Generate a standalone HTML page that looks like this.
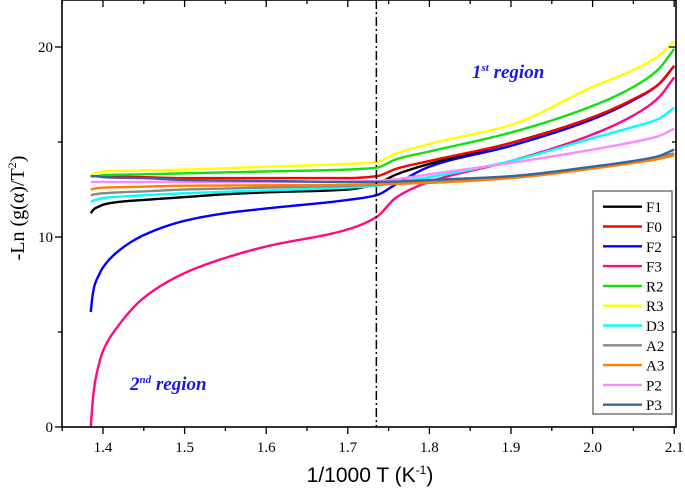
<!DOCTYPE html>
<html><head><meta charset="utf-8"><style>
html,body{margin:0;padding:0;background:#fff;}
svg{display:block;}
</style></head><body>
<svg id="chart" width="685" height="497" viewBox="0 0 685 497" xmlns="http://www.w3.org/2000/svg">
<g id="series"></g>
<g id="axes"></g>
<g id="legend"></g>
<text x="472" y="78" font-family="Liberation Serif, serif" font-size="19" font-weight="bold" font-style="italic" fill="#1a1ae0">1<tspan font-size="11" dy="-7">st</tspan><tspan dy="7"> region</tspan></text>
<text x="130" y="390" font-family="Liberation Serif, serif" font-size="19" font-weight="bold" font-style="italic" fill="#1a1ae0">2<tspan font-size="11" dy="-7">nd</tspan><tspan dy="7"> region</tspan></text>
<text transform="translate(24,208) rotate(-90)" text-anchor="middle" font-family="Liberation Serif, serif" font-size="20">-Ln (g(α)/T<tspan font-size="12" dy="-8">2</tspan><tspan dy="8">)</tspan></text>
<text x="370" y="482" text-anchor="middle" font-family="Liberation Sans, sans-serif" font-size="21">1/1000 T (K<tspan font-size="12" dy="-8">-1</tspan><tspan dy="8">)</tspan></text>
</svg>
<script>
const xGrid = [1.385,1.3875,1.39,1.395,1.40,1.42,1.45,1.5,1.55,1.6,1.7,1.735,1.76,1.8,1.9,2.0,2.05,2.08,2.1];
const seriesNames = ["F2","F1","F0","F3","R2","R3","D3","A2","A3","P2","P3"];
const seriesColors = ["#0000ff","#000000","#ff0000","#ff0a80","#10e010","#ffff00","#00ffff","#888888","#ff8000","#ff88ff","#3a64a0"];
const F2 = [6.05,7.0,7.5,8.0,8.4,9.3,10.1,10.85,11.25,11.5,11.95,12.2,12.8,13.7,14.8,16.2,17.2,18.0,19.0];
const F1 = [11.25,11.4,11.5,11.6,11.7,11.85,11.95,12.1,12.25,12.35,12.5,12.8,13.3,13.85,14.95,16.3,17.25,18.0,19.0];
const F0 = [13.2,13.2,13.2,13.2,13.2,13.18,13.15,13.1,13.1,13.1,13.1,13.2,13.6,14.0,14.95,16.3,17.25,18.0,19.0];
const F3 = [0,1.4,2.3,3.3,4.0,5.4,6.8,8.1,8.9,9.5,10.4,11.05,12.1,12.9,14.0,15.4,16.4,17.3,18.4];
const R2 = [13.2,13.2,13.2,13.22,13.25,13.28,13.3,13.35,13.4,13.45,13.55,13.65,14.1,14.5,15.5,16.9,17.9,18.8,19.9];
const R3 = [13.3,13.32,13.35,13.4,13.45,13.48,13.5,13.55,13.62,13.7,13.85,13.95,14.4,14.9,15.9,17.9,18.8,19.5,20.3];
const D3 = [11.85,11.9,11.95,12.0,12.05,12.12,12.2,12.3,12.38,12.45,12.6,12.7,12.9,13.15,14.0,15.2,15.8,16.2,16.8];
const A2 = [12.2,12.22,12.25,12.28,12.3,12.35,12.4,12.5,12.55,12.6,12.7,12.75,12.8,12.9,13.2,13.7,14.0,14.2,14.4];
const A3 = [12.5,12.52,12.55,12.58,12.6,12.62,12.65,12.7,12.71,12.72,12.75,12.78,12.8,12.85,13.1,13.6,13.9,14.1,14.3];
const P2 = [12.9,12.9,12.9,12.9,12.9,12.9,12.9,12.9,12.9,12.9,12.92,12.95,13.05,13.3,13.9,14.6,15.0,15.3,15.7];
const P3 = [13.2,13.2,13.2,13.18,13.15,13.12,13.1,13.0,12.97,12.95,12.9,12.9,12.92,13.0,13.2,13.7,14.0,14.25,14.6];
const seriesData = [F2,F1,F0,F3,R2,R3,D3,A2,A3,P2,P3];
const legendOrder = ["F1","F0","F2","F3","R2","R3","D3","A2","A3","P2","P3"];
const xTicks = [1.4,1.5,1.6,1.7,1.8,1.9,2.0,2.1];
const xTickLabels = ["1.4","1.5","1.6","1.7","1.8","1.9","2.0","2.1"];
const yTicks = [0,10,20];
const yTickLabels = ["0","10","20"];
const boundaryX = [1.735];

const NS="http://www.w3.org/2000/svg";
const X0=62,X1=676,Y0=0,Y1=427;
function xs(v){return 103+(v-1.4)*816;}
function ys(v){return 427-v*19;}
function mk(tag,attrs,parent){const e=document.createElementNS(NS,tag);for(const k in attrs)e.setAttribute(k,attrs[k]);parent.appendChild(e);return e;}
const gS=document.getElementById('series'),gA=document.getElementById('axes'),gL=document.getElementById('legend');

function pathFor(arr){
  const x=xGrid,y=arr,n=x.length,h=[],d=[],m=[];
  for(let i=0;i<n-1;i++){h[i]=x[i+1]-x[i];d[i]=(y[i+1]-y[i])/h[i];}
  m[0]=d[0];m[n-1]=d[n-2];
  for(let i=1;i<n-1;i++){
    if(d[i-1]*d[i]<=0)m[i]=0;
    else{const w1=2*h[i]+h[i-1],w2=h[i]+2*h[i-1];m[i]=(w1+w2)/(w1/d[i-1]+w2/d[i]);}
  }
  let pts=[];
  for(let i=0;i<n-1;i++){
    const steps=Math.max(4,Math.ceil((xs(x[i+1])-xs(x[i]))/2));
    for(let s=0;s<(i===n-2?steps+1:steps);s++){
      const t=s/steps,t2=t*t,t3=t2*t;
      const v=(2*t3-3*t2+1)*y[i]+(t3-2*t2+t)*h[i]*m[i]+(-2*t3+3*t2)*y[i+1]+(t3-t2)*h[i]*m[i+1];
      pts.push(xs(x[i]+t*h[i]).toFixed(2)+","+ys(v).toFixed(2));
    }
  }
  return "M"+pts.join(" L");
}
seriesNames.forEach((n,i)=>{
  const e=mk('path',{d:pathFor(seriesData[i]),fill:'none',stroke:seriesColors[i],'stroke-width':2.4,'stroke-linejoin':'round'},gS);
  
  
});
boundaryX.forEach(b=>{
  const e=mk('line',{x1:xs(b),x2:xs(b),y1:Y0,y2:Y1,stroke:'#000','stroke-width':1.5,'stroke-dasharray':'9,3,2,3'},gA);
  
  
});
const fr=mk('rect',{x:X0,y:Y0,width:X1-X0,height:Y1-Y0,fill:'none',stroke:'#000','stroke-width':1.6},gA);


for(let v=1.35;v<=2.1001;v+=0.05){
  const x=xs(v),major=Math.abs(Math.round(v*10)-v*10)<0.01;
  mk('line',{x1:x,x2:x,y1:Y1,y2:Y1+(major?7:4),stroke:'#000','stroke-width':1.3},gA);
  mk('line',{x1:x,x2:x,y1:Y0,y2:Y0+(major?7:4),stroke:'#000','stroke-width':1.3},gA);
}
xTicks.forEach((v,i)=>{
  const t=mk('text',{x:xs(v),y:452,'text-anchor':'middle','font-family':'Liberation Serif, serif','font-size':15},gA);
  t.textContent=xTickLabels[i];
  
  
});
for(let v=0;v<=20;v+=5){
  const y=ys(v),major=v%10===0;
  mk('line',{x1:X0,x2:X0-(major?7:4),y1:y,y2:y,stroke:'#000','stroke-width':1.3},gA);
  mk('line',{x1:X1,x2:X1-(major?7:4),y1:y,y2:y,stroke:'#000','stroke-width':1.3},gA);
}
yTicks.forEach((v,i)=>{
  const t=mk('text',{x:53,y:ys(v)+5,'text-anchor':'end','font-family':'Liberation Serif, serif','font-size':15},gA);
  t.textContent=yTickLabels[i];
  
  
});
const lb=mk('rect',{x:593,y:191,width:79,height:223,fill:'#fff',stroke:'#555','stroke-width':1.2},gL);


legendOrder.forEach((n,i)=>{
  const c=seriesColors[seriesNames.indexOf(n)],y=206.7+i*19.8;
  const g=mk('g',{},gL);
  
  
  mk('line',{x1:603,x2:642,y1:y,y2:y,stroke:c,'stroke-width':2.4},g);
  const t=mk('text',{x:646,y:y+5.5,'font-family':'Liberation Serif, serif','font-size':15},g);
  t.textContent=n;
});
</script>
</body></html>
